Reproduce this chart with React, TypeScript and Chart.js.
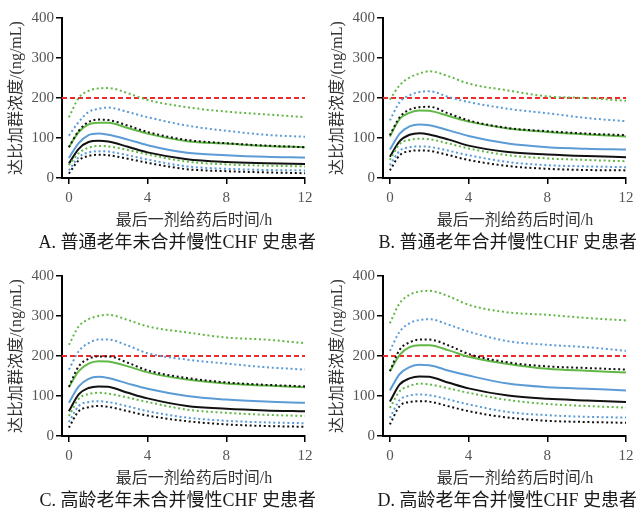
import React, { useEffect, useRef } from "react";
import { Chart, registerables } from "chart.js";

Chart.register(...registerables);

// ---------- data ----------
const timeH = [0, 0.5, 1, 1.5, 2, 3, 4, 6, 8, 10, 12];
const xTicks = [0, 4, 8, 12];
const yTicks = [0, 100, 200, 300, 400];
const threshold = 200;

const xTitleText = "最后一剂给药后时间/h";
const yTitleText = "达比加群浓度/(ng/mL)";
const captions = [
  "A. 普通老年未合并慢性CHF 史患者",
  "B. 普通老年合并慢性CHF 史患者",
  "C. 高龄老年未合并慢性CHF 史患者",
  "D. 高龄老年合并慢性CHF 史患者",
];

// Panel A
const aGreenHi = [152, 200, 218, 224, 225, 212, 195, 177, 166, 159, 152];
const aBlueHi = [106, 140, 165, 173, 176, 165, 152, 131, 118, 108, 103];
const aBlackHi = [77, 118, 140, 146, 145, 131, 115, 95, 87, 81, 77];
const aGreenMid = [77, 115, 134, 138, 138, 125, 111, 92, 86, 80, 77];
const aBlueMid = [50, 87, 107, 111, 108, 96, 82, 63, 57, 53, 51];
const aBlackMid = [36, 73, 90, 93, 91, 78, 64, 47, 40, 37, 35];
const aGreenLo = [32, 62, 76, 80, 79, 70, 59, 41, 34, 31, 29];
const aBlueLo = [19, 52, 64, 67, 66, 57, 46, 29, 23, 20, 19];
const aBlackLo = [11, 44, 55, 58, 57, 48, 38, 22, 17, 14, 12];

// Panel B
const bGreenHi = [196, 232, 251, 261, 267, 254, 236, 219, 204, 200, 193];
const bBlueHi = [144, 190, 207, 215, 217, 202, 190, 173, 162, 150, 142];
const bBlackHi = [107, 152, 171, 177, 178, 161, 144, 125, 117, 111, 107];
const bGreenMid = [104, 148, 163, 169, 168, 155, 141, 124, 115, 109, 104];
const bBlueMid = [71, 111, 129, 134, 132, 119, 105, 86, 77, 73, 71];
const bBlackMid = [53, 92, 108, 112, 109, 96, 81, 65, 59, 55, 52];
const bGreenLo = [45, 85, 95, 98, 97, 86, 74, 57, 49, 45, 42];
const bBlueLo = [32, 68, 77, 79, 78, 68, 57, 40, 32, 29, 27];
const bBlackLo = [19, 57, 67, 69, 68, 57, 45, 30, 23, 20, 19];

// Panel C
const cGreenHi = [228, 274, 292, 300, 303, 290, 274, 259, 246, 241, 232];
const cBlueHi = [166, 212, 232, 241, 241, 226, 207, 191, 181, 172, 166];
const cBlackHi = [123, 174, 193, 199, 199, 183, 164, 145, 134, 128, 124];
const cGreenMid = [122, 162, 181, 187, 186, 174, 159, 141, 131, 126, 122];
const cBlueMid = [83, 124, 143, 148, 145, 131, 118, 100, 91, 86, 83];
const cBlackMid = [62, 104, 120, 124, 123, 108, 94, 75, 68, 64, 62];
const cGreenLo = [50, 93, 105, 108, 106, 96, 85, 66, 58, 53, 50];
const cBlueLo = [35, 75, 85, 87, 85, 74, 62, 46, 38, 34, 32];
const cBlackLo = [21, 62, 72, 75, 73, 62, 51, 37, 29, 25, 23];

// Panel D
const dGreenHi = [282, 332, 353, 361, 363, 349, 328, 309, 303, 295, 289];
const dBlueHi = [213, 261, 282, 290, 292, 278, 261, 237, 228, 222, 213];
const dBlackHi = [162, 216, 234, 241, 241, 226, 205, 184, 174, 170, 166];
const dGreenMid = [162, 203, 222, 227, 227, 214, 198, 180, 168, 163, 159];
const dBlueMid = [114, 155, 172, 178, 177, 163, 151, 131, 122, 118, 114];
const dBlackMid = [86, 129, 144, 149, 148, 133, 119, 101, 93, 89, 85];
const dGreenLo = [70, 112, 125, 131, 129, 119, 108, 90, 80, 75, 71];
const dBlueLo = [45, 90, 101, 104, 102, 91, 79, 60, 52, 48, 46];
const dBlackLo = [29, 75, 85, 87, 86, 74, 62, 46, 38, 35, 33];

const panelSeries = [
  { greenHi: aGreenHi, blueHi: aBlueHi, blackHi: aBlackHi, greenMid: aGreenMid, blueMid: aBlueMid, blackMid: aBlackMid, greenLo: aGreenLo, blueLo: aBlueLo, blackLo: aBlackLo },
  { greenHi: bGreenHi, blueHi: bBlueHi, blackHi: bBlackHi, greenMid: bGreenMid, blueMid: bBlueMid, blackMid: bBlackMid, greenLo: bGreenLo, blueLo: bBlueLo, blackLo: bBlackLo },
  { greenHi: cGreenHi, blueHi: cBlueHi, blackHi: cBlackHi, greenMid: cGreenMid, blueMid: cBlueMid, blackMid: cBlackMid, greenLo: cGreenLo, blueLo: cBlueLo, blackLo: cBlackLo },
  { greenHi: dGreenHi, blueHi: dBlueHi, blackHi: dBlackHi, greenMid: dGreenMid, blueMid: dBlueMid, blackMid: dBlackMid, greenLo: dGreenLo, blueLo: dBlueLo, blackLo: dBlackLo },
];

// ---------- styles / layout ----------
const X_MIN = -0.35;
const X_MAX = 12;
const GREEN = "#62b846";
const BLUE = "#5b9bd6";
const BLACK = "#111111";
const RED = "#ee2a2a";
const SERIF = "'Liberation Serif', 'DejaVu Serif', 'Noto Sans CJK SC', serif";
const MIXED = "'Liberation Serif', 'Noto Sans CJK SC', serif";

const PANEL_W = 321;
const PANEL_H = 255;
const panelPos = [
  { left: 0, top: 0 },
  { left: 321, top: 0 },
  { left: 0, top: 258 },
  { left: 321, top: 258 },
];

const panelTextPlugin = {
  id: "panelText",
  afterDraw(chart: any, _args: any, opts: any) {
    const ctx = chart.ctx;
    ctx.save();
    ctx.fillStyle = "#333";
    ctx.font = `16px ${MIXED}`;
    ctx.textAlign = "center";
    ctx.textBaseline = "middle";
    ctx.fillText(opts.xTitle, opts.xTitleX, opts.xTitleY);
    ctx.fillStyle = "#1a1a1a";
    ctx.font = `18px ${MIXED}`;
    ctx.textAlign = "right";
    ctx.fillText(opts.caption, opts.captionRight, opts.captionY);
    ctx.restore();
  },
};

function toPoints(arr: number[]) {
  return timeH.map((t, i) => ({ x: t, y: arr[i] }));
}

function line(data: number[], color: string, dotted: boolean) {
  return {
    data: toPoints(data),
    borderColor: color,
    borderWidth: 2,
    borderDash: dotted ? [2, 2.7] : [],
    borderCapStyle: "butt",
    pointRadius: 0,
    cubicInterpolationMode: "monotone",
    fill: false,
  };
}

function Panel({ index }: { index: number }) {
  const ref = useRef<HTMLCanvasElement | null>(null);
  useEffect(() => {
    const s = panelSeries[index];
    const datasets: any[] = [
      line(s.greenLo, GREEN, true),
      line(s.blueLo, BLUE, true),
      line(s.blackLo, BLACK, true),
      line(s.greenHi, GREEN, true),
      line(s.blueHi, BLUE, true),
      line(s.blackHi, BLACK, true),
      line(s.greenMid, GREEN, false),
      line(s.blueMid, BLUE, false),
      line(s.blackMid, BLACK, false),
      {
        data: [
          { x: X_MIN, y: threshold },
          { x: X_MAX, y: threshold },
        ],
        borderColor: RED,
        borderWidth: 2,
        borderDash: [5, 3],
        pointRadius: 0,
        fill: false,
      },
    ];
    const tickFont = { family: SERIF, size: 15 };
    const chart = new Chart(ref.current as HTMLCanvasElement, {
      type: "line",
      data: { datasets },
      plugins: [panelTextPlugin as any],
      options: {
        animation: false,
        responsive: false,
        maintainAspectRatio: false,
        layout: { padding: { top: 18, right: 16, left: 0, bottom: 0 } },
        plugins: {
          legend: { display: false },
          tooltip: { enabled: false },
          title: { display: false },
          panelText: {
            xTitle: xTitleText,
            xTitleX: 194,
            xTitleY: 221,
            caption: captions[index],
            captionRight: 316,
            captionY: 243,
          },
        } as any,
        scales: {
          x: {
            type: "linear",
            min: X_MIN,
            max: X_MAX,
            afterBuildTicks: (sc: any) => {
              sc.ticks = xTicks.map((v) => ({ value: v }));
            },
            afterFit: (sc: any) => {
              sc.height = 77;
            },
            grid: { drawOnChartArea: false, drawTicks: true, tickLength: 6, color: "#000", lineWidth: 1.5 },
            border: { display: true, color: "#000", width: 2 },
            ticks: { color: "#555", font: tickFont, padding: 5, maxRotation: 0, autoSkip: false },
          },
          y: {
            type: "linear",
            min: 0,
            max: 400,
            afterBuildTicks: (sc: any) => {
              sc.ticks = yTicks.map((v) => ({ value: v }));
            },
            afterFit: (sc: any) => {
              sc.width = 62;
            },
            grid: { drawOnChartArea: false, drawTicks: true, tickLength: 6, color: "#000", lineWidth: 1.5 },
            border: { display: true, color: "#000", width: 2 },
            ticks: { color: "#555", font: tickFont, padding: 2 },
            title: {
              display: true,
              text: yTitleText,
              color: "#333",
              font: { family: MIXED, size: 16 },
              padding: { top: 7, bottom: 0 },
            },
          },
        },
      } as any,
    });
    return () => chart.destroy();
  }, [index]);
  const pos = panelPos[index];
  return (
    <div style={{ position: "absolute", left: pos.left, top: pos.top, width: PANEL_W, height: PANEL_H }}>
      <canvas ref={ref} width={PANEL_W} height={PANEL_H} style={{ width: PANEL_W, height: PANEL_H, display: "block" }} />
    </div>
  );
}

export default function App() {
  return (
    <div
      style={{
        position: "absolute",
        left: 0,
        top: 0,
        width: 642,
        height: 513,
        background: "#fff",
        overflow: "hidden",
      }}
    >
      {[0, 1, 2, 3].map((i) => (
        <Panel key={i} index={i} />
      ))}
    </div>
  );
}
